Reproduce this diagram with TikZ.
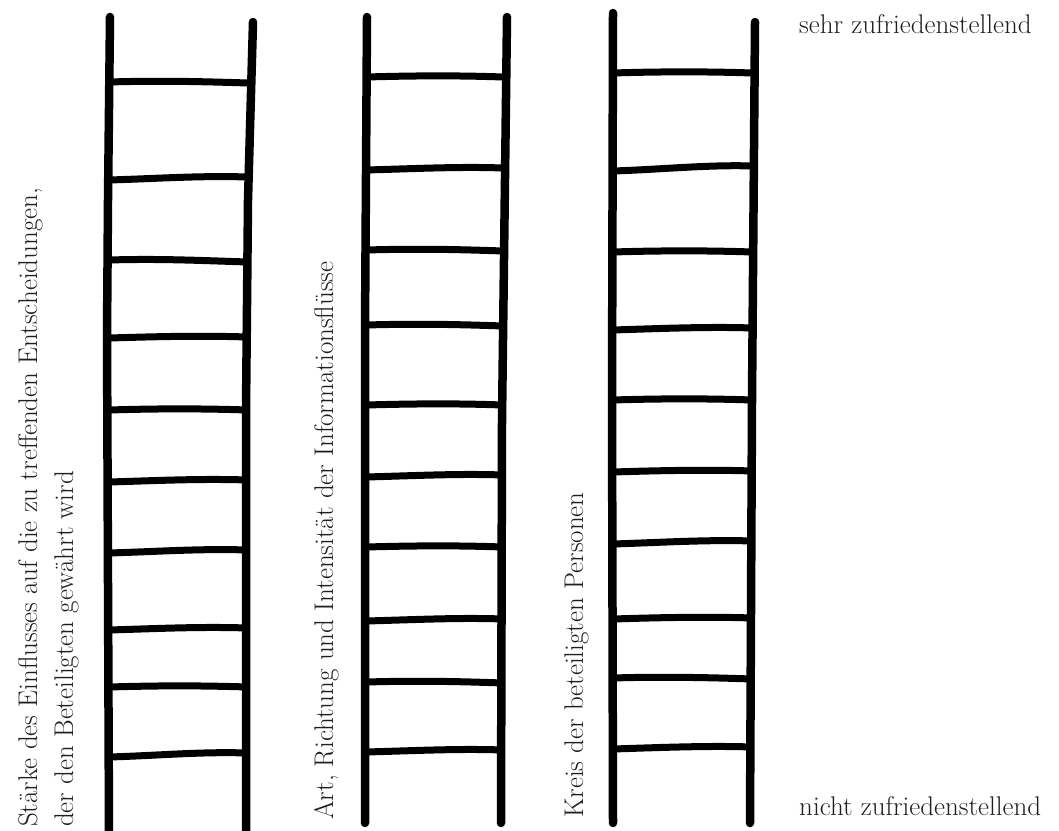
\documentclass[tikz,border=0pt]{standalone}
\usepackage{fontspec}
\setmainfont{Latin Modern Roman}
\begin{document}
\begin{tikzpicture}[x=1pt,y=-1pt,
  rail/.style={line width=8.5pt,line cap=round,line join=round},
  rung/.style={line width=7pt,line cap=butt},
  lbl/.style={inner sep=0pt,text=black!88,font=\fontsize{27}{32}\selectfont}]
\useasboundingbox (0,0) rectangle (1059,830);
% ladder 1
\draw[rail] (110,17) -- (108,200) -- (107,335) -- (109,832);
\draw[rail] (253,22) -- (248,200) -- (246,410) -- (246,832);
\foreach \a/\b in {82/83,180/177,260/262,338/337,410/410,482/480,553/550,630/628,687/687,757/753}
  \draw[rung] (109,\a) .. controls (160,\a-1.5) and (200,\b-1.5) .. (248,\b);
% ladder 2
\draw[rail] (367,17) -- (365,330) -- (365,823);
\draw[rail] (507,17) -- (502,420) -- (501,823);
\foreach \a/\b in {77/77,170/168,250/251,325/326,405/405,477/475,547/547,621/619,682/683,752/750}
  \draw[rung] (366,\a) .. controls (420,\a-1.5) and (460,\b-1.5) .. (503,\b);
% ladder 3
\draw[rail] (613,13) -- (612,400) -- (613,823);
\draw[rail] (755,22) -- (752,400) -- (750,823);
\foreach \a/\b in {73/73,171/166,252/252,330/328,400/400,472/471,544/541,619/618,678/679,749/747}
  \draw[rung] (613,\a) .. controls (660,\a-1.5) and (710,\b-1.5) .. (752,\b);
% labels
\node[lbl,rotate=90,anchor=base west] (t1a) at (37,827) {Stärke des Einflusses auf die zu treffenden Entscheidungen,};
\node[lbl,rotate=90,anchor=base west] (t1b) at (73,827) {der den Beteiligten gewährt wird};
\node[lbl,rotate=90,anchor=base west] (t2) at (333,820) {Art, Richtung und Intensität der Informationsflüsse};
\node[lbl,rotate=90,anchor=base west] (t3) at (583,818) {Kreis der beteiligten Personen};
\node[lbl,anchor=base west] (top) at (799,33) {sehr zufriedenstellend};
\node[lbl,anchor=base west] (bot) at (799,815) {nicht zufriedenstellend};
\end{tikzpicture}
\end{document}
